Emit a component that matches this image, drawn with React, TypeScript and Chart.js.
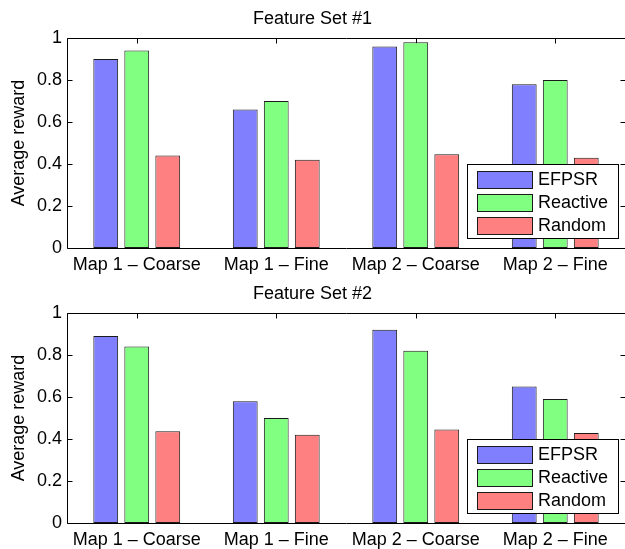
import React, { useEffect, useRef } from "react";
import { Chart, registerables } from "chart.js";

Chart.register(...registerables);

// ---- data ----
const categories = ["Map 1 – Coarse", "Map 1 – Fine", "Map 2 – Coarse", "Map 2 – Fine"];
const seriesNames = ["EFPSR", "Reactive", "Random"];
const seriesColors = ["#8080ff", "#80ff80", "#ff8080"];

const fs1Efpsr = [0.9, 0.66, 0.96, 0.78];
const fs1Reactive = [0.94, 0.7, 0.98, 0.8];
const fs1Random = [0.44, 0.42, 0.446, 0.43];

const fs2Efpsr = [0.89, 0.58, 0.92, 0.65];
const fs2Reactive = [0.84, 0.5, 0.82, 0.59];
const fs2Random = [0.437, 0.42, 0.445, 0.429];

const yTickValues = [0, 0.2, 0.4, 0.6, 0.8, 1];
const yTickLabels = ["0", "0.2", "0.4", "0.6", "0.8", "1"];

const titles = ["Feature Set #1", "Feature Set #2"];
const yAxisTitle = "Average reward";

const FONT_FAMILY = '"Liberation Sans", Arial, Helvetica, sans-serif';
const FS = 18;
const font = { family: FONT_FAMILY, size: FS, weight: "normal" as const, lineHeight: 1.2 };

const px = (v: number) => Math.round(v) + 0.5;

const boxPlugin = {
  id: "matlabBox",
  beforeDatasetsDraw(chart: any) {
    const { ctx, chartArea: a, scales } = chart;
    ctx.save();
    ctx.strokeStyle = "#000";
    ctx.lineWidth = 1;
    ctx.beginPath();
    const L = px(a.left), R = px(a.right), T = px(a.top), B = px(a.bottom);
    ctx.moveTo(L, T); ctx.lineTo(R, T);
    ctx.moveTo(L, B); ctx.lineTo(R, B);
    ctx.moveTo(L, T); ctx.lineTo(L, B);
    ctx.moveTo(R, T); ctx.lineTo(R, B);
    const tl = 5;
    categories.forEach((_, i) => {
      const x = px(scales.x.getPixelForValue(i));
      ctx.moveTo(x, T); ctx.lineTo(x, T + tl);
      ctx.moveTo(x, B); ctx.lineTo(x, B - tl);
    });
    yTickValues.forEach((v) => {
      const y = px(scales.y.getPixelForValue(v));
      ctx.moveTo(L, y); ctx.lineTo(L + tl, y);
      ctx.moveTo(R, y); ctx.lineTo(R - tl, y);
    });
    ctx.stroke();
    ctx.restore();
  },
};

const legendPlugin = {
  id: "insideLegend",
  afterDraw(chart: any) {
    const { ctx, chartArea: a } = chart;
    const boxRight = a.right - 7;
    const boxLeft = a.right - 158;
    const boxBottom = a.bottom - 10;
    const boxTop = boxBottom - 74;
    ctx.save();
    ctx.fillStyle = "#fff";
    ctx.fillRect(boxLeft, boxTop, boxRight - boxLeft, boxBottom - boxTop);
    ctx.strokeStyle = "#000";
    ctx.lineWidth = 1;
    ctx.strokeRect(px(boxLeft), px(boxTop), Math.round(boxRight - boxLeft), Math.round(boxBottom - boxTop));
    ctx.font = `${FS}px ${FONT_FAMILY}`;
    ctx.textBaseline = "middle";
    ctx.textAlign = "left";
    chart.data.datasets.forEach((ds: any, i: number) => {
      const cy = boxTop + 15 + i * 23;
      const sx = boxLeft + 10;
      const sy = Math.round(cy - 8.5);
      ctx.fillStyle = ds.backgroundColor;
      ctx.fillRect(sx, sy, 55, 17);
      ctx.strokeStyle = "#1a1a1a";
      ctx.strokeRect(px(sx), px(sy), 55, 17);
      ctx.fillStyle = "#000";
      ctx.fillText(ds.label, boxLeft + 71, cy + 1);
    });
    ctx.restore();
  },
};

function BarPanel(props: { title: string; series: number[][]; height: number; xAxisHeight: number; top: number }) {
  const ref = useRef<HTMLCanvasElement | null>(null);
  useEffect(() => {
    if (!ref.current) return;
    const chart = new Chart(ref.current, {
      type: "bar",
      data: {
        labels: categories,
        datasets: props.series.map((vals, i) => ({
          label: seriesNames[i],
          data: vals,
          backgroundColor: seriesColors[i],
          borderColor: "#1a1a1a",
          borderWidth: 1,
          borderSkipped: false,
          categoryPercentage: 0.667,
          barPercentage: 0.8,
        })),
      },
      options: {
        responsive: false,
        animation: false,
        devicePixelRatio: 1,
        layout: { padding: 0 },
        plugins: {
          legend: { display: false },
          tooltip: { enabled: false },
          title: {
            display: true,
            text: props.title,
            color: "#000",
            font,
            padding: { top: 8, bottom: 8.4 },
          },
        },
        scales: {
          x: {
            type: "category",
            offset: true,
            grid: { display: false, drawTicks: false },
            border: { display: false },
            ticks: { color: "#000", font, padding: 6, maxRotation: 0, autoSkip: false },
            afterFit: (s: any) => { s.height = props.xAxisHeight; },
          },
          y: {
            min: 0,
            max: 1,
            afterBuildTicks: (s: any) => { s.ticks = yTickValues.map((v) => ({ value: v })); },
            grid: { display: false, drawTicks: false },
            border: { display: false },
            ticks: {
              color: "#000",
              font,
              padding: 5,
              callback: (_v: any, i: number) => yTickLabels[i],
            },
            title: {
              display: true,
              text: yAxisTitle,
              color: "#000",
              font,
              padding: { top: 8, bottom: 0 },
            },
            afterFit: (s: any) => { s.width = 67; },
          },
        },
      },
      plugins: [boxPlugin, legendPlugin],
    } as any);
    return () => chart.destroy();
  }, []);
  return (
    <canvas
      ref={ref}
      width={625}
      height={props.height}
      style={{ position: "absolute", left: 0, top: props.top, width: 625, height: props.height, display: "block" }}
    />
  );
}

export default function App() {
  return (
    <div style={{ position: "fixed", left: 0, top: 0, width: 625, height: 549, overflow: "hidden", background: "#fff" }}>
      <BarPanel title={titles[0]} series={[fs1Efpsr, fs1Reactive, fs1Random]} height={275} xAxisHeight={27} top={0} />
      <BarPanel title={titles[1]} series={[fs2Efpsr, fs2Reactive, fs2Random]} height={274} xAxisHeight={26} top={275} />
    </div>
  );
}
